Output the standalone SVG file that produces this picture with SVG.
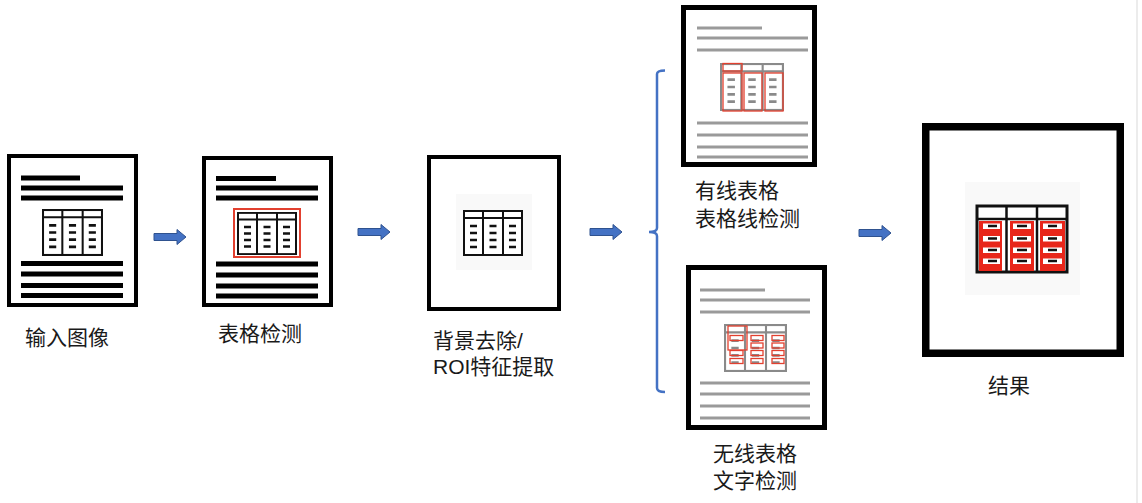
<svg xmlns="http://www.w3.org/2000/svg" xmlns:xlink="http://www.w3.org/1999/xlink" width="1142" height="503" viewBox="0 0 1142 503">
<style>
.frame{fill:#fff;stroke:#000}
.bl{stroke:#000;stroke-width:5}
.gl{stroke:#9a9a9a;stroke-width:3}
.lbl{font-family:"Liberation Sans","Noto Sans CJK SC",sans-serif;font-size:21px;fill:#1a1a1a}
.red{fill:none;stroke:#e2402f;stroke-width:1.3}
.arrow{fill:#4472C4;stroke:#2F528F;stroke-width:1}
</style>
<defs>
<symbol id="tbl" viewBox="0 0 60 46" preserveAspectRatio="none">
<g stroke="currentColor" fill="none">
<rect x="1" y="1" width="58" height="44" fill="#fff" stroke-width="2"/>
<line x1="1" y1="8" x2="59" y2="8" stroke-width="2"/>
<line x1="20" y1="1" x2="20" y2="45" stroke-width="2"/>
<line x1="40" y1="1" x2="40" y2="45" stroke-width="2"/>
<g stroke-width="2.6">
<path d="M7,16h7M7,23h7M7,30h7M7,37h7"/>
<path d="M26.5,16h7M26.5,23h7M26.5,30h7M26.5,37h7"/>
<path d="M46,16h7M46,23h7M46,30h7M46,37h7"/>
</g>
</g>
</symbol>
<path id="arr" d="M0,-3.5H23V-7.5L32,0L23,7.5V3.5H0Z"/>
</defs>
<rect width="1142" height="503" fill="#fff"/>
<line x1="1137" y1="0" x2="1137" y2="503" stroke="#ececec" stroke-width="2"/>

<g id="connectors">
<use href="#arr" x="154" y="237" class="arrow"/>
<use href="#arr" x="358" y="232" class="arrow"/>
<use href="#arr" x="590" y="232" class="arrow"/>
<use href="#arr" x="859" y="233" class="arrow"/>
<path d="M665,70.5Q657,70.5 657,74V228Q657,232 649,232Q657,232 657,236V388Q657,392 665,392" fill="none" stroke="#4472C4" stroke-width="2.5"/>
</g>

<g id="node-input">
<rect class="frame" x="9" y="156" width="127" height="149" stroke-width="4"/>
<path class="bl" d="M21,178H80M21,188H123M21,198H123M21,263.5H123M21,274H123M21,285.5H123M21,295.5H123"/>
<use href="#tbl" x="42" y="209" width="61" height="47" color="#111"/>
<text class="lbl" x="25" y="345">输入图像</text>
</g>

<g id="node-detect">
<rect class="frame" x="204" y="158" width="127" height="147" stroke-width="4"/>
<path class="bl" d="M216,178.5H276M216,188H318M216,198H318M216,264H318M216,275H318M216,286H318M216,296H318"/>
<rect x="234" y="209" width="66" height="48" fill="none" stroke="#e2402f" stroke-width="2"/>
<use href="#tbl" x="237" y="212" width="60" height="43" color="#111"/>
<text class="lbl" x="218" y="341">表格检测</text>
</g>

<g id="node-roi">
<rect class="frame" x="429" y="157" width="130" height="152" stroke-width="4"/>
<rect x="456" y="194" width="76" height="76" fill="#f9f9f9"/>
<use href="#tbl" x="463" y="210" width="60" height="46" color="#111"/>
<text class="lbl"><tspan x="433" y="348">背景去除/</tspan><tspan x="433" y="374">ROI特征提取</tspan></text>
</g>

<g id="node-lined">
<rect class="frame" x="683.5" y="7.5" width="131" height="157" stroke-width="5"/>
<path class="gl" d="M697,28H762M697,38H808M697,50H808M697,123H808M697,135H808M697,147H808M697,157H808"/>
<use href="#tbl" x="720" y="63" width="64" height="48" color="#8a8a8a"/>
<rect class="red" x="723" y="63.5" width="19" height="7.5"/>
<rect class="red" x="723" y="73" width="19" height="38"/>
<rect class="red" x="744" y="73" width="18" height="38"/>
<rect class="red" x="765" y="73" width="18" height="38"/>
<text class="lbl"><tspan x="695" y="198">有线表格</tspan><tspan x="695" y="226">表格线检测</tspan></text>
</g>

<g id="node-unlined">
<rect class="frame" x="688.5" y="267.5" width="136" height="160" stroke-width="5"/>
<path class="gl" d="M700,290H765M700,300H810M700,312H810M700,383H810M700,394H810M700,406H810M700,418H810"/>
<use href="#tbl" x="724" y="324" width="63" height="48" color="#8a8a8a"/>
<rect class="red" x="728" y="326" width="19" height="24"/>
<g class="red">
<rect x="730" y="335.5" width="13" height="5"/><rect x="730" y="350.5" width="13" height="5"/><rect x="730" y="358.5" width="13" height="5"/>
<rect x="751" y="335.5" width="12" height="5"/><rect x="751" y="343" width="12" height="5"/><rect x="751" y="350.5" width="12" height="5"/><rect x="751" y="358.5" width="12" height="5"/>
<rect x="772" y="335.5" width="12" height="5"/><rect x="772" y="343" width="12" height="5"/><rect x="772" y="350.5" width="12" height="5"/><rect x="772" y="358.5" width="12" height="5"/>
</g>
<text class="lbl"><tspan x="713" y="461">无线表格</tspan><tspan x="713" y="488">文字检测</tspan></text>
</g>

<g id="node-result">
<rect class="frame" x="925.75" y="126.75" width="194.5" height="226.5" stroke-width="7.5"/>
<rect x="965" y="182" width="115" height="113" fill="#f9f9f9"/>
<rect x="977" y="206" width="90" height="66" fill="#fff" stroke="#111" stroke-width="3"/>
<rect x="979" y="221" width="23" height="50" fill="#e8261a"/>
<rect x="1010" y="221" width="24" height="50" fill="#e8261a"/>
<rect x="1040" y="221" width="25" height="50" fill="#e8261a"/>
<g fill="#fff">
<rect x="983" y="223.5" width="17" height="5.5"/><rect x="983" y="236" width="17" height="5.5"/><rect x="983" y="247.5" width="17" height="5.5"/><rect x="983" y="258.5" width="17" height="5.5"/>
<rect x="1013" y="223.5" width="18" height="5.5"/><rect x="1013" y="236" width="18" height="5.5"/><rect x="1013" y="247.5" width="18" height="5.5"/><rect x="1013" y="258.5" width="18" height="5.5"/>
<rect x="1043" y="223.5" width="19" height="5.5"/><rect x="1043" y="236" width="19" height="5.5"/><rect x="1043" y="247.5" width="19" height="5.5"/><rect x="1043" y="258.5" width="19" height="5.5"/>
</g>
<path d="M988,226H997M988,238.5H997M988,250H997M988,261H997M1017,226H1027M1017,238.5H1027M1017,250H1027M1017,261H1027M1048,226H1057M1048,238.5H1057M1048,250H1057M1048,261H1057" stroke="#111" stroke-width="2.6"/>
<line x1="977" y1="219" x2="1067" y2="219" stroke="#111" stroke-width="2.5"/>
<line x1="1006.5" y1="206" x2="1006.5" y2="272" stroke="#111" stroke-width="2.5"/>
<line x1="1037" y1="206" x2="1037" y2="272" stroke="#111" stroke-width="2.5"/>
<text class="lbl" x="988" y="393">结果</text>
</g>
</svg>
